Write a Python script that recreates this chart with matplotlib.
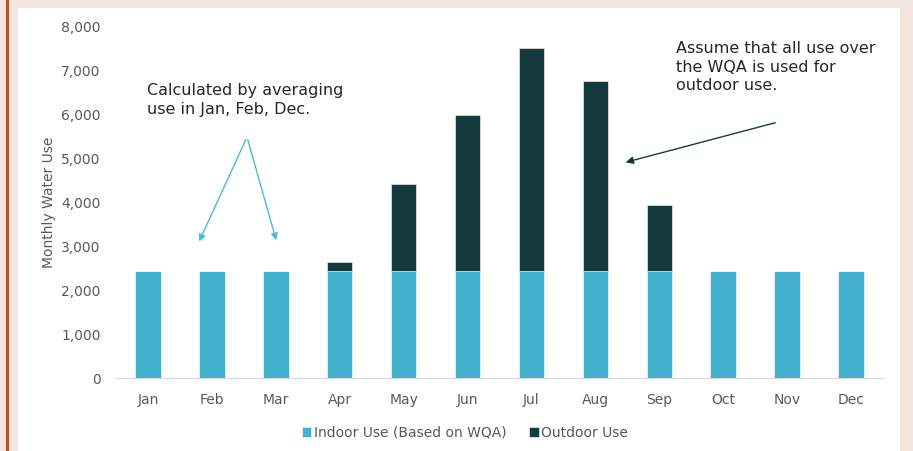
import numpy as np
import matplotlib
matplotlib.use('Agg')
import matplotlib.pyplot as plt
from matplotlib.patches import Rectangle

months = ['Jan', 'Feb', 'Mar', 'Apr', 'May', 'Jun',
          'Jul', 'Aug', 'Sep', 'Oct', 'Nov', 'Dec']
indoor = [2450] * 12
outdoor = [0, 0, 0, 200, 1980, 3550, 5060, 4330, 1490, 0, 0, 0]

IN_COL = '#42B1CF'
OUT_COL = '#163B3F'
TXT = '#595959'

fig = plt.figure(figsize=(9.13, 4.51), dpi=100, facecolor='#F2E4DF')
W, H = 913, 451

# white panel + brown rule on the left
fig.patches.append(Rectangle((18 / W, 0), (900 - 18) / W, (H - 8) / H,
                             transform=fig.transFigure, facecolor='white',
                             edgecolor='none', zorder=-2))
fig.patches.append(Rectangle((6 / W, 0), 3 / W, 1,
                             transform=fig.transFigure, facecolor='#B4532A',
                             edgecolor='none', zorder=-2))

ax = fig.add_axes([116 / W, 73 / H, (883 - 116) / W, (378 - 27) / H])
ax.set_facecolor('none')
x = np.arange(len(months))
ax.bar(x, indoor, width=0.4, color=IN_COL, label='Indoor Use (Based on WQA)',
       edgecolor='white', linewidth=0.4)
ax.bar(x, outdoor, width=0.4, bottom=indoor, color=OUT_COL,
       label='Outdoor Use', edgecolor='white', linewidth=0.4)

ax.set_xlim(-0.5, 11.5)
ax.set_ylim(0, 8000)
ax.set_yticks(range(0, 8001, 1000))
ax.set_yticklabels([f'{v:,}' for v in range(0, 8001, 1000)])
ax.set_xticks(x)
ax.set_xticklabels(months)
ax.tick_params(colors=TXT, labelsize=10, length=0)
ax.tick_params(axis='x', pad=11)
ax.tick_params(axis='y', pad=11)
for s in ['top', 'right', 'left']:
    ax.spines[s].set_visible(False)
ax.spines['bottom'].set_color('#D9D9D9')
ax.set_ylabel('Monthly Water Use', color=TXT, fontsize=10, labelpad=4)

ax.legend(loc='upper center', bbox_to_anchor=(0.455, -0.10), ncol=2,
          frameon=False, fontsize=10, labelcolor=TXT, handlelength=0.7,
          handleheight=0.7, handletextpad=0.2, columnspacing=1.6)

# annotations
fig.text(147 / W, 1 - 83 / H, 'Calculated by averaging\nuse in Jan, Feb, Dec.',
         fontsize=11.5, color='#262626', va='top', ha='left', linespacing=1.3)
for tx, ty in [(198, 244), (277, 243)]:
    ax.annotate('', xy=(tx / W, 1 - ty / H), xytext=(247 / W, 1 - 137 / H),
                xycoords='figure fraction', textcoords='figure fraction',
                arrowprops=dict(arrowstyle='-|>', color='#4BBCD8', lw=1,
                                mutation_scale=10))

fig.text(676 / W, 1 - 41 / H, 'Assume that all use over\nthe WQA is used for\noutdoor use.',
         fontsize=11.5, color='#262626', va='top', ha='left', linespacing=1.3)
ax.annotate('', xy=(623 / W, 1 - 163 / H), xytext=(778 / W, 1 - 122 / H),
            xycoords='figure fraction', textcoords='figure fraction',
            arrowprops=dict(arrowstyle='-|>', color=OUT_COL, lw=1,
                            mutation_scale=11))

fig.savefig('out.png', dpi=100, facecolor=fig.get_facecolor())
